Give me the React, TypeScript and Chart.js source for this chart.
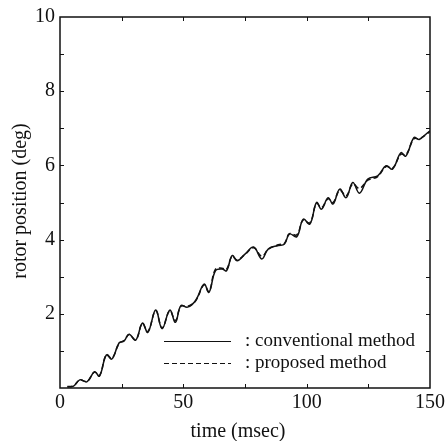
import React, { useEffect, useRef } from "react";
import { Chart, registerables } from "chart.js";

Chart.register(...registerables);

const timeMs = [3, 5.5, 8, 11, 14, 16, 18.8, 21, 24, 26, 28, 30.7, 33.4, 35.6, 38.8, 41.4, 44.5, 46.8, 49, 51.7, 55, 58.4, 60.4, 63, 65.7, 67.5, 69.8, 71.8, 75, 78.5, 81.8, 84.5, 88.5, 91, 93, 96, 98.6, 101.3, 104, 106, 108.7, 110.7, 113.4, 116, 118.7, 121.4, 124.8, 128.8, 132.2, 134.8, 138.2, 140.2, 143.5, 145.6, 149, 150];
const conventional = [0.04, 0.05, 0.22, 0.17, 0.44, 0.32, 0.89, 0.78, 1.22, 1.27, 1.45, 1.29, 1.75, 1.5, 2.1, 1.6, 2.1, 1.77, 2.22, 2.18, 2.36, 2.8, 2.58, 3.16, 3.21, 3.16, 3.57, 3.43, 3.61, 3.8, 3.48, 3.75, 3.84, 3.88, 4.15, 4.08, 4.55, 4.42, 5.0, 4.82, 5.13, 4.96, 5.36, 5.13, 5.54, 5.25, 5.63, 5.72, 5.99, 5.9, 6.34, 6.25, 6.75, 6.7, 6.88, 6.93];
const proposed = [0.03, 0.06, 0.21, 0.18, 0.43, 0.33, 0.9, 0.8, 1.2, 1.28, 1.44, 1.3, 1.74, 1.52, 2.08, 1.62, 2.08, 1.82, 2.2, 2.2, 2.35, 2.78, 2.6, 3.2, 3.23, 3.2, 3.55, 3.45, 3.6, 3.78, 3.55, 3.74, 3.86, 3.9, 4.16, 4.13, 4.53, 4.45, 4.98, 4.86, 5.1, 5.0, 5.33, 5.18, 5.5, 5.38, 5.6, 5.7, 5.97, 5.92, 6.3, 6.28, 6.72, 6.72, 6.86, 6.92];

const xLabels = [0, 50, 100, 150];
const yLabels = [2, 4, 6, 8, 10];
const xTitle = "time (msec)";
const yTitle = "rotor position (deg)";
const seriesNames = [": conventional method", ": proposed method"];

const FONT = "'Liberation Serif', 'DejaVu Serif', serif";

const decorPlugin = {
  id: "decor",
  afterDraw(chart: any) {
    const { ctx, chartArea: a, scales } = chart;
    const xs = scales.x;
    const ys = scales.y;
    ctx.save();
    ctx.strokeStyle = "#111";
    ctx.lineWidth = 1.5;
    ctx.strokeRect(a.left, a.top, a.right - a.left, a.bottom - a.top);
    ctx.lineWidth = 1;
    const tl = 4;
    for (let v = 1; v < 10; v++) {
      const py = Math.round(ys.getPixelForValue(v)) + 0.5;
      ctx.beginPath();
      ctx.moveTo(a.left, py);
      ctx.lineTo(a.left + tl, py);
      ctx.moveTo(a.right, py);
      ctx.lineTo(a.right - tl, py);
      ctx.stroke();
    }
    for (let v = 25; v < 150; v += 25) {
      const px = Math.round(xs.getPixelForValue(v)) + 0.5;
      ctx.beginPath();
      ctx.moveTo(px, a.bottom);
      ctx.lineTo(px, a.bottom - tl);
      ctx.moveTo(px, a.top);
      ctx.lineTo(px, a.top + tl);
      ctx.stroke();
    }
    // axis titles
    ctx.fillStyle = "#111";
    ctx.font = `20px ${FONT}`;
    ctx.textAlign = "center";
    ctx.textBaseline = "middle";
    ctx.fillText(xTitle, 238, 432);
    ctx.save();
    ctx.translate(21, 201);
    ctx.rotate(-Math.PI / 2);
    ctx.fillText(yTitle, 0, 0);
    ctx.restore();
    // legend
    ctx.font = `19px ${FONT}`;
    ctx.textAlign = "left";
    const rows = [
      { y: 341, dash: [] as number[] },
      { y: 363, dash: [5, 3] },
    ];
    rows.forEach((r, i) => {
      ctx.setLineDash(r.dash);
      ctx.lineWidth = 1.2;
      ctx.beginPath();
      ctx.moveTo(164, r.y + 0.5);
      ctx.lineTo(231, r.y + 0.5);
      ctx.stroke();
      ctx.setLineDash([]);
      ctx.fillText(seriesNames[i], 245, r.y);
    });
    ctx.restore();
  },
};

export default function App() {
  const ref = useRef<HTMLCanvasElement | null>(null);
  useEffect(() => {
    document.body.style.margin = "0";
    const canvas = ref.current!;
    const chart = new Chart(canvas, {
      type: "line",
      data: {
        datasets: [
          {
            label: seriesNames[0],
            data: timeMs.map((t, i) => ({ x: t, y: conventional[i] })),
            borderColor: "#111",
            borderWidth: 1.5,
            pointRadius: 0,
            tension: 0.4,
            fill: false,
          },
          {
            label: seriesNames[1],
            data: timeMs.map((t, i) => ({ x: t, y: proposed[i] })),
            borderColor: "#111",
            borderWidth: 1.5,
            borderDash: [5, 3],
            pointRadius: 0,
            tension: 0.4,
            fill: false,
          },
        ],
      },
      options: {
        responsive: false,
        animation: false,
        layout: { padding: { top: 16, right: 15, left: 0, bottom: 0 } },
        plugins: { legend: { display: false }, tooltip: { enabled: false } },
        scales: {
          x: {
            type: "linear",
            min: 0,
            max: 150,
            grid: { display: false, drawTicks: false },
            border: { display: false },
            afterFit: (s: any) => { s.height = 53; },
            ticks: {
              stepSize: 50,
              padding: 3,
              color: "#111",
              font: { family: FONT, size: 20 },
              maxRotation: 0,
              callback: (v: any) => (xLabels.includes(Number(v)) ? String(v) : ""),
            },
          },
          y: {
            type: "linear",
            min: 0,
            max: 10,
            grid: { display: false, drawTicks: false },
            border: { display: false },
            afterFit: (s: any) => { s.width = 60; },
            ticks: {
              stepSize: 2,
              padding: 5,
              color: "#111",
              font: { family: FONT, size: 20 },
              callback: (v: any) => (yLabels.includes(Number(v)) ? String(v) : ""),
            },
          },
        },
      },
      plugins: [decorPlugin],
    });
    return () => chart.destroy();
  }, []);
  return (
    <div style={{ position: "fixed", left: 0, top: 0 }}>
      <canvas ref={ref} width={448} height={441} />
    </div>
  );
}
